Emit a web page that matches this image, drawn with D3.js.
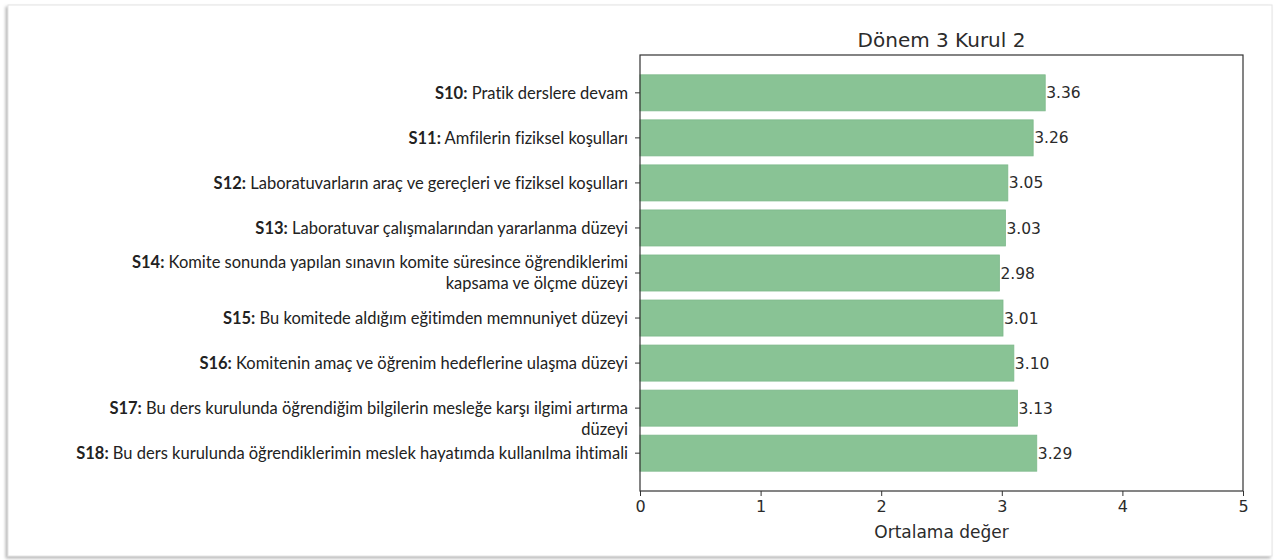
<!DOCTYPE html>
<meta charset="utf-8">
<style>
    body {
        margin: 0;
        padding: 0;
        background: #fff;
    }
    .ytick text {
        font-family: Lato, "Noto Sans", sans-serif;
        font-size: 16.5px;
        font-variant-ligatures: none;
        fill: #222;
    }
    .mpl {
        font-family: "DejaVu Sans", sans-serif;
        fill: #2b2b2b;
    }
</style>

<body>

<script src="https://d3js.org/d3.v7.min.js"></script>

<script>

var codes = ["S10", "S11", "S12", "S13", "S14", "S15", "S16", "S17", "S18"];

var questions = [
  ["Pratik derslere devam"],
  ["Amfilerin fiziksel koşulları"],
  ["Laboratuvarların araç ve gereçleri ve fiziksel koşulları"],
  ["Laboratuvar çalışmalarından yararlanma düzeyi"],
  ["Komite sonunda yapılan sınavın komite süresince öğrendiklerimi", "kapsama ve ölçme düzeyi"],
  ["Bu komitede aldığım eğitimden memnuniyet düzeyi"],
  ["Komitenin amaç ve öğrenim hedeflerine ulaşma düzeyi"],
  ["Bu ders kurulunda öğrendiğim bilgilerin mesleğe karşı ilgimi artırma", "düzeyi"],
  ["Bu ders kurulunda öğrendiklerimin meslek hayatımda kullanılma ihtimali"]
];

var values = [3.36, 3.26, 3.05, 3.03, 2.98, 3.01, 3.10, 3.13, 3.29];

var xTicks = [0, 1, 2, 3, 4, 5];

var title = "Dönem 3 Kurul 2";
var xLabel = "Ortalama değer";

var W = 1277, H = 560;
var pL = 640, pR = 1243, pT = 55, pB = 491;

var svg = d3.select("body").append("svg")
    .attr("width", W)
    .attr("height", H);

// shadowed frame around the picture
var defs = svg.append("defs");
var f = defs.append("filter").attr("id", "shadow")
    .attr("x", "-5%").attr("y", "-5%").attr("width", "110%").attr("height", "110%");
f.append("feDropShadow")
    .attr("dx", -2).attr("dy", 2).attr("stdDeviation", 1.8)
    .attr("flood-color", "#888").attr("flood-opacity", 0.6);

svg.append("rect")
    .attr("x", 8).attr("y", 5)
    .attr("width", 1264).attr("height", 551)
    .attr("fill", "#fff")
    .attr("stroke", "#e4e4e4")
    .attr("filter", "url(#shadow)");

var x = d3.scaleLinear()
    .domain([0, 5])
    .range([pL, pR]);

var y = d3.scaleBand()
    .domain(codes)
    .range([pT, pB])
    .paddingInner(0.2)
    .paddingOuter(0.44);

// bars
svg.append("g").selectAll("rect")
  .data(values)
  .enter().append("rect")
    .attr("x", x(0))
    .attr("y", (d, i) => y(codes[i]))
    .attr("width", d => x(d) - x(0))
    .attr("height", y.bandwidth())
    .attr("fill", "#89c395")
    .attr("stroke", "#7db98a")
    .attr("stroke-width", 0.8);

// value labels
svg.append("g").selectAll("text")
  .data(values)
  .enter().append("text")
    .attr("class", "mpl")
    .attr("x", d => x(d) + 1)
    .attr("y", (d, i) => y(codes[i]) + y.bandwidth() / 2)
    .attr("dy", "0.36em")
    .style("font-size", "15.5px")
    .text(d => d.toFixed(2));

// y axis (ticks + custom labels)
var yAxis = svg.append("g")
    .attr("transform", "translate(" + pL + ",0)")
    .call(d3.axisLeft(y).tickSize(5).tickFormat(""));
yAxis.select(".domain").remove();
yAxis.selectAll("line").attr("stroke", "#333");

var lh = 21;
var firstLineOnTick = ["S17"];
codes.forEach((c, i) => {
  var lines = questions[i];
  var cy = y(c) + y.bandwidth() / 2;
  var start = firstLineOnTick.indexOf(c) >= 0 ? cy : cy - (lines.length - 1) * lh / 2;
  var t = svg.append("g").attr("class", "ytick").append("text")
      .attr("text-anchor", "end");
  lines.forEach((ln, k) => {
    var tl = t.append("tspan")
        .attr("x", pL - 12)
        .attr("y", start + k * lh)
        .attr("dy", "0.35em");
    if (k === 0) {
      tl.append("tspan").attr("font-weight", "bold").text(c + ":");
      tl.append("tspan").text(" " + ln);
    } else {
      tl.text(ln);
    }
  });
});

// x axis
var xAxis = svg.append("g")
    .attr("transform", "translate(0," + pB + ")")
    .call(d3.axisBottom(x).tickValues(xTicks).tickSize(5).tickSizeOuter(0).tickPadding(5).tickFormat(d3.format("d")));
xAxis.select(".domain").remove();
xAxis.selectAll("line").attr("stroke", "#333");
xAxis.selectAll("text")
    .attr("class", "mpl")
    .style("font-family", "DejaVu Sans")
    .style("font-size", "16px")
    .attr("fill", "#2b2b2b");

// frame of the axes
svg.append("rect")
    .attr("x", pL).attr("y", pT)
    .attr("width", pR - pL).attr("height", pB - pT)
    .attr("fill", "none")
    .attr("stroke", "#333")
    .attr("stroke-width", 1.2);

svg.append("text")
    .attr("class", "mpl")
    .attr("x", (pL + pR) / 2)
    .attr("y", 47)
    .attr("text-anchor", "middle")
    .style("font-size", "20px")
    .text(title);

svg.append("text")
    .attr("class", "mpl")
    .attr("x", (pL + pR) / 2)
    .attr("y", 538)
    .attr("text-anchor", "middle")
    .style("font-size", "17px")
    .text(xLabel);

</script>
